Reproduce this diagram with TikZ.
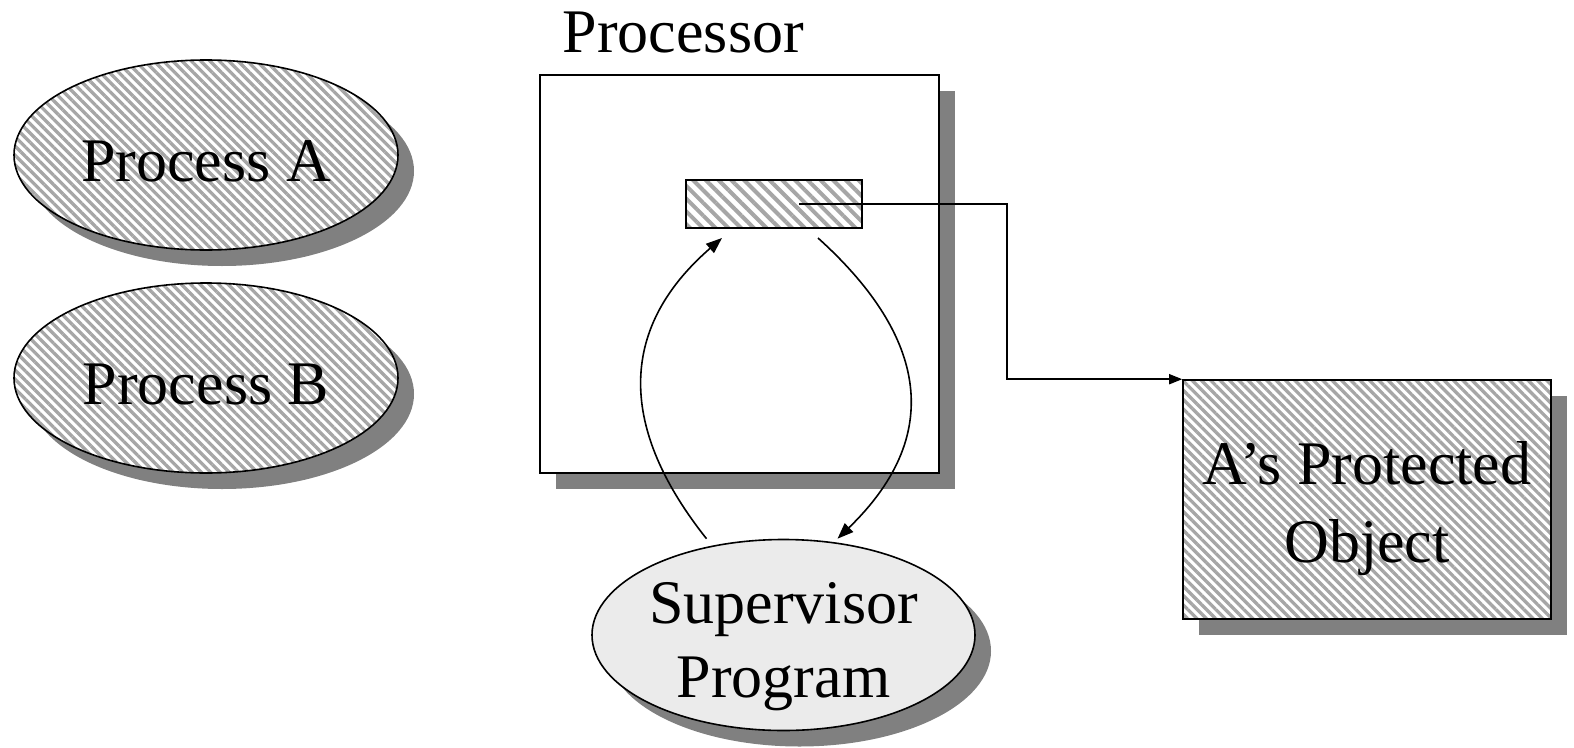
\documentclass[tikz,border=0pt]{standalone}
\usepackage{fontspec}
\setmainfont{Liberation Serif}
\usetikzlibrary{shapes.geometric,shadows,patterns.meta,arrows.meta,calc}
\begin{document}
\begin{tikzpicture}[x=1pt,y=-1pt,
  line width=1.6pt,
  big/.style={font=\fontsize{62}{72}\selectfont},
  shade/.style={drop shadow={shadow xshift=16pt,shadow yshift=-16pt,fill=black!50,opacity=1}},
  hatch/.style={preaction={fill=white},
    pattern={Lines[angle=-45,distance=6.6pt,line width=3.3pt]},pattern color=black!35},
  coarsehatch/.style={preaction={fill=white},
    pattern={Lines[angle=-45,distance=9pt,line width=4pt]},pattern color=black!35},
  proc/.style={ellipse,draw,shade,hatch,big,inner sep=0pt,text height=52pt,text depth=0pt,
    minimum width=384pt,minimum height=190pt},
  caption/.style={big,align=center,inner sep=0pt},
  flow/.style={-{Triangle[length=16pt,width=12pt]}},
  link/.style={-{Triangle[length=13pt,width=10pt]}}
]
\useasboundingbox (0,0) rectangle (1574,747);

% processes
\node[proc] (pa) at (206,155) {Process A};
\node[proc] (pb) at (206,378) {Process B};

% processor with its register
\node[draw,shade,fill=white,minimum width=399pt,minimum height=398pt,inner sep=0pt] (cpu) at (739.5,274) {};
\node[big,anchor=base west,inner sep=0pt] (cpulabel) at (562,52) {Processor};
\node[draw,coarsehatch,minimum width=176pt,minimum height=48pt,inner sep=0pt] (reg) at (774,204) {};

% supervisor
\node[ellipse,draw,shade,fill=black!8,inner sep=0pt,
  minimum width=383pt,minimum height=191pt] (sup) at (783.5,635) {};
\node[caption] (suptext) at ([yshift=-12pt]sup.center) {Supervisor\\[2pt]Program};

% protected object
\node[draw,shade,hatch,inner sep=0pt,
  minimum width=368pt,minimum height=239pt] (obj) at (1367,499.5) {};
\node[caption] (objtext) at ([yshift=-9pt]obj.center) {A’s Protected\\[6pt]Object};

% connectors
\coordinate (bend) at (1007,300);
\draw[link] ([xshift=25pt]reg.center) -| (bend) |- (obj.north west);
\draw[flow] ([xshift=-77pt]sup.north) .. controls (620,430) and (616,330) .. ([xshift=-52pt,yshift=-8pt]reg.south);
\draw[flow] ([xshift=44pt,yshift=-8pt]reg.south) .. controls (920,330) and (950,430) .. ([xshift=54pt]sup.north);
\end{tikzpicture}
\end{document}
